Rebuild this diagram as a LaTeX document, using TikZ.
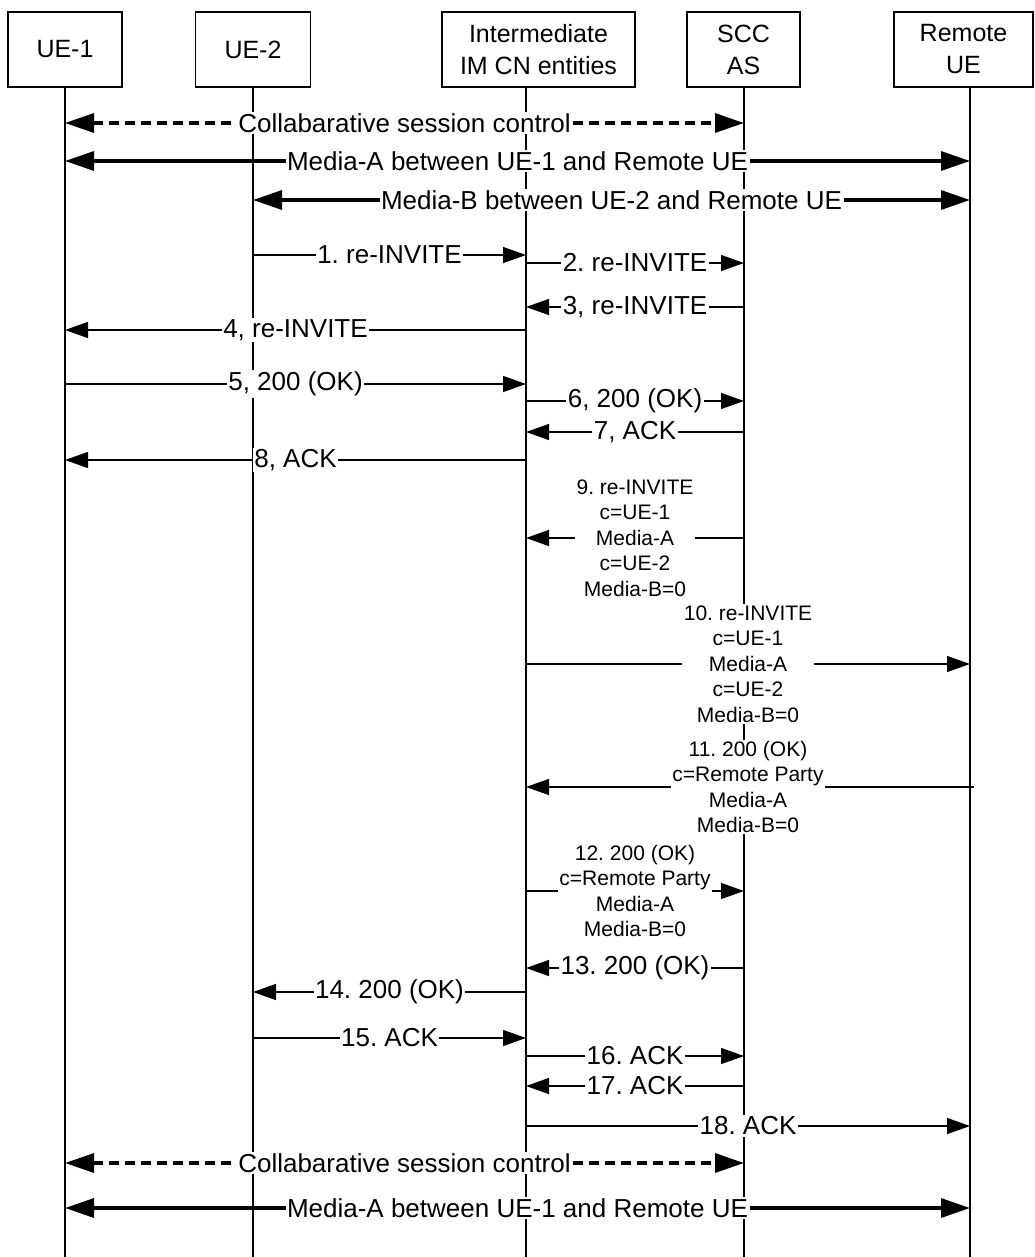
\documentclass[tikz,border=0pt]{standalone}
\usepackage{fontspec}
\setmainfont{Liberation Sans}
\usetikzlibrary{arrows.meta}

\begin{document}
\frenchspacing
\begin{tikzpicture}[x=1pt,y=-1pt,
    entity/.style={draw,line width=1.3pt,align=center,minimum height=75pt,
      inner sep=0pt,font=\fontsize{25}{32}\selectfont},
    life/.style={line width=1.3pt},
    msg/.style={line width=1.3pt,-{Triangle[length=23pt,width=16pt]}},
    bimsg/.style={line width=3.3pt,
      {Triangle[length=29pt,width=19pt]}-{Triangle[length=29pt,width=19pt]}},
    lbl/.style={fill=white,inner sep=1.5pt,font=\fontsize{26}{31}\selectfont},
    sdp/.style={fill=white,inner sep=1.5pt,align=center,
      font=\fontsize{21}{25.5}\selectfont}]
  \useasboundingbox (0,0) rectangle (1035,1257);
  \node[entity,minimum width=114pt] (ue1) at (65,49.5) {UE-1};
  \node[entity,minimum width=115pt] (ue2) at (253,49.5) {UE-2};
  \node[entity,minimum width=193pt] (imcn) at (538.5,49.5) {Intermediate\\IM CN entities};
  \node[entity,minimum width=113pt] (scc) at (743.5,49.5) {SCC\\AS};
  \node[entity,minimum width=139pt] (rue) at (963.5,49.5) {Remote\\UE};
  \coordinate (L1) at (ue1.south);
  \coordinate (L2) at (ue2.south);
  \coordinate (L3) at ([xshift=-12.5pt]imcn.south);
  \coordinate (L4) at ([xshift=0.5pt]scc.south);
  \coordinate (L5) at ([xshift=6.5pt]rue.south);
  \draw[life] (L1) -- (L1 |- 0,1257);
  \draw[life] (L2) -- (L2 |- 0,1257);
  \draw[life] (L3) -- (L3 |- 0,1257);
  \draw[life] (L4) -- (L4 |- 0,1257);
  \draw[life] (L5) -- (L5 |- 0,1257);

  \draw[bimsg,dash pattern=on 10pt off 6pt] (L1 |- 0,123) -- node[lbl] {Collabarative session control} (L4 |- 0,123);
  \draw[bimsg] (L1 |- 0,161) -- node[lbl] {Media-A between UE-1 and Remote UE} (L5 |- 0,161);
  \draw[bimsg] (L2 |- 0,200) -- node[lbl] {Media-B between UE-2 and Remote UE} (L5 |- 0,200);
  \draw[msg] (L2 |- 0,255) -- node[lbl] {1. re-INVITE} (L3 |- 0,255);
  \draw[msg] (L3 |- 0,263) -- node[lbl] {2. re-INVITE} (L4 |- 0,263);
  \draw[msg] (L4 |- 0,307) -- node[lbl] {3, re-INVITE} (L3 |- 0,307);
  \draw[msg] (L3 |- 0,330) -- node[lbl] {4, re-INVITE} (L1 |- 0,330);
  \draw[msg] (L1 |- 0,384) -- node[lbl] {5, 200 (OK)} (L3 |- 0,384);
  \draw[msg] (L3 |- 0,401) -- node[lbl] {6, 200 (OK)} (L4 |- 0,401);
  \draw[msg] (L4 |- 0,432) -- node[lbl] {7, ACK} (L3 |- 0,432);
  \draw[msg] (L3 |- 0,460) -- node[lbl] {8, ACK} (L1 |- 0,460);
  \draw[msg] (L4 |- 0,538) -- node[sdp] {9. re-INVITE\\c=UE-1\\Media-A\\c=UE-2\\Media-B=0} (L3 |- 0,538);
  \draw[msg] (L3 |- 0,664) -- node[sdp] {10. re-INVITE\\c=UE-1\\Media-A\\c=UE-2\\Media-B=0} (L5 |- 0,664);
  \draw[msg,shorten <=-4pt] (L5 |- 0,787) -- node[sdp] {11. 200 (OK)\\c=Remote Party\\Media-A\\Media-B=0} (L3 |- 0,787);
  \draw[msg] (L3 |- 0,891) -- node[sdp] {12. 200 (OK)\\c=Remote Party\\Media-A\\Media-B=0} (L4 |- 0,891);
  \draw[msg] (L4 |- 0,968) -- node[lbl] {13. 200 (OK)} (L3 |- 0,968);
  \draw[msg] (L3 |- 0,992) -- node[lbl] {14. 200 (OK)} (L2 |- 0,992);
  \draw[msg] (L2 |- 0,1038) -- node[lbl] {15. ACK} (L3 |- 0,1038);
  \draw[msg] (L3 |- 0,1056) -- node[lbl] {16. ACK} (L4 |- 0,1056);
  \draw[msg] (L4 |- 0,1086) -- node[lbl] {17. ACK} (L3 |- 0,1086);
  \draw[msg] (L3 |- 0,1126) -- node[lbl] {18. ACK} (L5 |- 0,1126);
  \draw[bimsg,dash pattern=on 10pt off 6pt] (L1 |- 0,1163) -- node[lbl] {Collabarative session control} (L4 |- 0,1163);
  \draw[bimsg] (L1 |- 0,1208) -- node[lbl] {Media-A between UE-1 and Remote UE} (L5 |- 0,1208);
\end{tikzpicture}
\end{document}
